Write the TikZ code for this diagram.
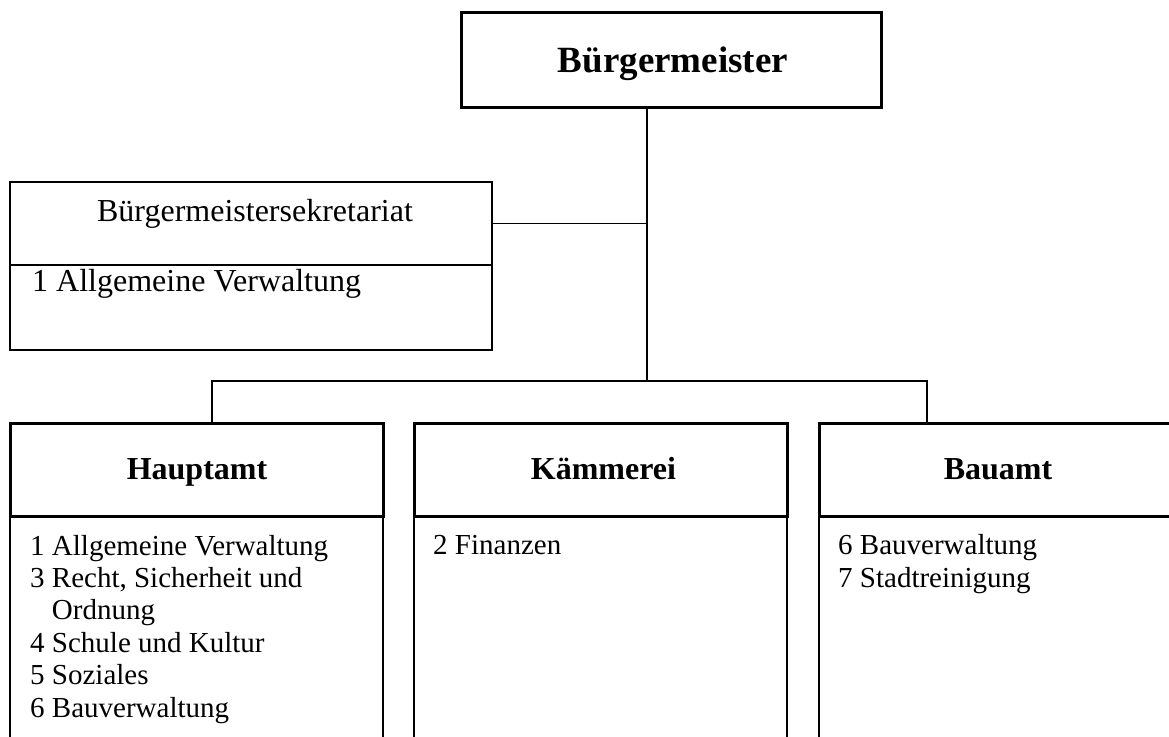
\documentclass[tikz,border=0pt]{standalone}
\usepackage{fontspec}
\setmainfont{Liberation Serif}
\begin{document}
\begin{tikzpicture}[x=1pt,y=1pt,
  chiefbox/.style={draw, line width=3pt, inner sep=0pt, minimum width=420pt, minimum height=95.3pt},
  headbox/.style={draw, line width=3pt, inner sep=0pt, minimum height=93pt},
  bodybox/.style={draw, line width=1.5pt, inner sep=0pt, minimum height=260pt, anchor=north},
  secbox/.style={draw, line width=1.5pt, inner sep=0pt, minimum width=482pt},
  link/.style={line width=1.5pt},
  chieftext/.style={font=\bfseries\fontsize{37}{44}\selectfont, anchor=base, inner sep=0pt},
  headtext/.style={font=\bfseries\fontsize{32}{38}\selectfont, anchor=base, inner sep=0pt},
  sectext/.style={font=\fontsize{32}{38}\selectfont, inner sep=0pt},
  listtext/.style={font=\fontsize{29}{32.4}\selectfont, anchor=base west, align=left, inner sep=0pt}]
\useasboundingbox (0,0) rectangle (1169,736);
\clip (0,0) rectangle (1169,736);

% Mayor
\node[chiefbox] (chief) at (671,675.7) {};
\node[chieftext] (chiefT) at (673,663) {Bürgermeister};

% Secretariat
\node[secbox, minimum height=83pt] (sekHead) at (251,512.5) {};
\node[secbox, minimum height=85pt] (sekBody) at (251,428.5) {};
\node[sectext, anchor=base] (sekHeadT) at (255,514) {Bürgermeistersekretariat};
\node[sectext, anchor=base west] (sekBodyT) at (32,444) {1 Allgemeine Verwaltung};

% Departments: open-ended bodies first, thick header boxes on top
\node[bodybox, minimum width=373pt] (hauptBody) at (196.5,219) {};
\node[bodybox, minimum width=373pt] (kaemBody) at (600.5,219) {};
\node[bodybox, minimum width=359pt] (bauBody) at (998.5,219) {};
\node[headbox, minimum width=373pt] (hauptHead) at (196.5,265.5) {};
\node[headbox, minimum width=373pt] (kaemHead) at (600.5,265.5) {};
\node[headbox, minimum width=359pt] (bauHead) at (998.5,265.5) {};

\node[headtext] (hauptT) at (197,256) {Hauptamt};
\node[headtext] (kaemT) at (603.5,256) {Kämmerei};
\node[headtext] (bauT) at (998,256) {Bauamt};

% Lists (a multi-line node sits on the baseline of its last line)
\node[listtext] (hauptL) at (30,19) {1 Allgemeine Verwaltung\\3 Recht, Sicherheit und\\\hphantom{3\ }Ordnung\\4 Schule und Kultur\\5 Soziales\\6 Bauverwaltung};
\node[listtext] (kaemL) at (433,181) {2 Finanzen};
\node[listtext] (bauL) at (838,148.6) {6 Bauverwaltung\\7 Stadtreinigung};

% Connectors
\coordinate (bus) at (647,355);
\coordinate (busL) at (212,355);
\coordinate (busR) at (927,355);
\draw[link] (chief.south -| bus) -- (bus);
\draw[link] (sekHead.east) -- (sekHead.east -| bus);
\draw[link] (hauptHead.north -| busL) -- (busL) -- (busR) -- (bauHead.north -| busR);
\end{tikzpicture}
\end{document}
